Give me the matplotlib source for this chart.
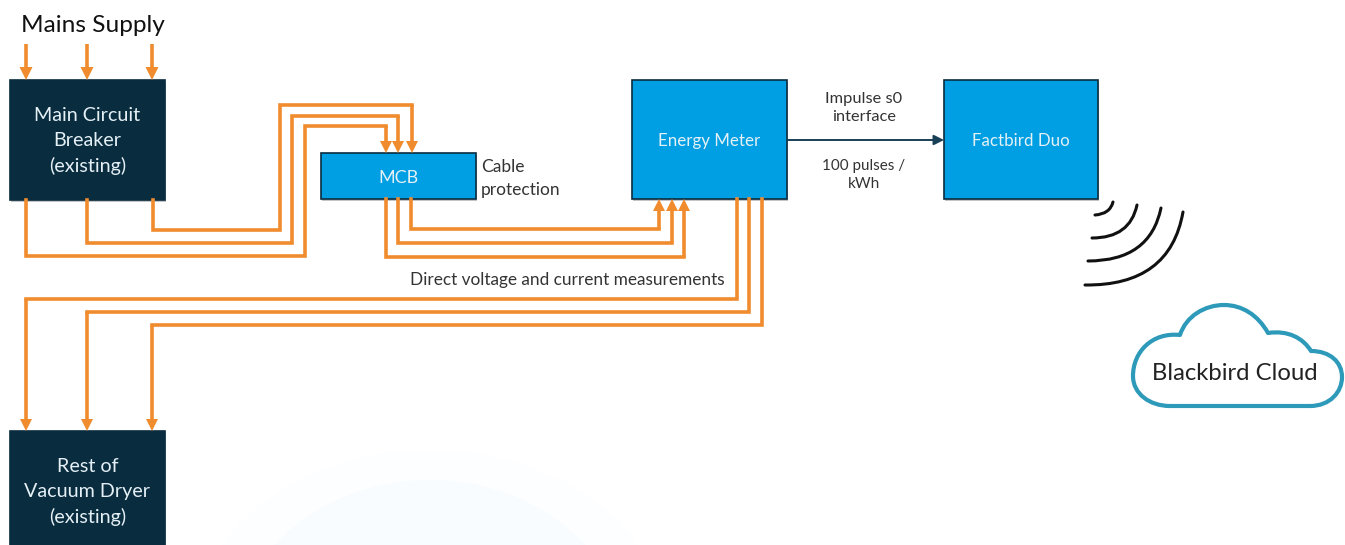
import matplotlib
matplotlib.use("Agg")
import matplotlib.pyplot as plt
from matplotlib.patches import Rectangle, PathPatch, Ellipse
from matplotlib.path import Path

plt.rcParams['font.family'] = ['Lato', 'DejaVu Sans']

ORANGE = '#F08C2E'
NAVY = '#0A2C3F'
BLUE = '#009FE3'
TEAL = '#2E9ABA'

# boxes: x0, y0, x1, y1, fill, label, font size
boxes = [
    (10, 80, 165, 200, NAVY, 'Main Circuit\nBreaker\n(existing)', 14.2),
    (321, 153, 476, 199, BLUE, 'MCB', 13),
    (632, 80, 787, 199, BLUE, 'Energy Meter', 12.2),
    (944, 80, 1098, 199, BLUE, 'Factbird Duo', 12.2),
    (10, 431, 165, 560, NAVY, 'Rest of\nVacuum Dryer\n(existing)', 14.2),
]
box_label_y = [141, 178, 141, 141, 492]

# wire routes in image pixels, the last segment gets the arrow head
mains_x = [26, 87, 152]
mains_top = 44
mains_bottom = 80

wires = [
    [(153, 200), (153, 230), (280, 230), (280, 105), (412, 105), (412, 153)],
    [(87, 200), (87, 243), (292, 243), (292, 116), (398, 116), (398, 153)],
    [(26, 200), (26, 256), (305, 256), (305, 126), (386, 126), (386, 153)],
    [(411, 199), (411, 229), (659, 229), (659, 199)],
    [(398, 199), (398, 243), (672, 243), (672, 199)],
    [(386, 199), (386, 257), (684, 257), (684, 199)],
    [(737, 199), (737, 299), (26, 299), (26, 431)],
    [(749, 199), (749, 312), (87, 312), (87, 431)],
    [(762, 199), (762, 325), (152, 325), (152, 431)],
]

# wifi arcs: start, control, end
wifi_arcs = [
    ((1113, 202), (1110, 214), (1095, 215)),
    ((1137, 205), (1130, 238), (1092, 238)),
    ((1161, 208), (1150, 261), (1088, 261)),
    ((1183, 212), (1170, 286), (1085, 285)),
]

# plain text labels: x, y, text, size, colour, alignment
labels = [
    (21, 26, 'Mains Supply', 17.6, '#111111', 'left'),
    (481, 167, 'Cable', 12.5, '#333333', 'left'),
    (481, 190, 'protection', 12.5, '#333333', 'left'),
    (410, 280, 'Direct voltage and current measurements', 12.4, '#333333', 'left'),
    (864, 108, 'Impulse s0\ninterface', 11.8, '#333333', 'center'),
    (864, 175, '100 pulses /\nkWh', 11, '#333333', 'center'),
    (1235, 374, 'Blackbird Cloud', 17.2, '#222222', 'center'),
]

# cloud outline, cubic segments after the first straight run
cloud_start = (1170, 406)
cloud_line = (1310, 406)
cloud_curves = [
    ((1330, 406), (1342, 392), (1342, 377)),
    ((1342, 362), (1330, 351), (1311, 351)),
    ((1303, 338), (1288, 330), (1268, 333)),
    ((1258, 315), (1242, 305), (1224, 305)),
    ((1205, 305), (1186, 316), (1180, 335)),
    ((1152, 332), (1133, 352), (1133, 376)),
    ((1133, 394), (1150, 406), (1170, 406)),
]

fig = plt.figure(figsize=(13.45, 5.45), dpi=100)
ax = fig.add_axes([0, 0, 1, 1])
ax.set_xlim(0, 1345)
ax.set_ylim(545, 0)
ax.axis('off')

# faint glow at the bottom of the slide
ax.add_patch(Ellipse((430, 640), 480, 380, color='#FCFEFF', lw=0, zorder=0))
ax.add_patch(Ellipse((430, 655), 400, 350, color='#F9FCFE', lw=0, zorder=0))


def arrow(p0, p1, half=6, length=13):
    # shaft stops inside the head, head is a filled triangle
    dy = 1 if p1[1] > p0[1] else -1
    ax.plot([p0[0], p1[0]], [p0[1], p1[1] - dy * length], color=ORANGE, lw=2.6,
            solid_capstyle='butt', zorder=3)
    ax.fill([p1[0] - half, p1[0] + half, p1[0]],
            [p1[1] - dy * length, p1[1] - dy * length, p1[1]],
            color=ORANGE, lw=0, zorder=4)


for x in mains_x:
    arrow((x, mains_top), (x, mains_bottom), half=6.5, length=13)

for w in wires:
    xs = [p[0] for p in w[:-1]]
    ys = [p[1] for p in w[:-1]]
    ax.plot(xs, ys, color=ORANGE, lw=2.6, solid_joinstyle='miter', zorder=3)
    arrow(w[-2], w[-1], half=6, length=12)

for (x0, y0, x1, y1, fill, text, size), ty in zip(boxes, box_label_y):
    ax.add_patch(Rectangle((x0 + 1, y0 + 2), x1 - x0, y1 - y0, color='#C4C4C4', lw=0, zorder=1))
    ax.add_patch(Rectangle((x0, y0), x1 - x0, y1 - y0, facecolor=fill,
                           edgecolor='#0A2C3F', lw=1.2, zorder=2))
    ax.text((x0 + x1) / 2, ty, text, color='#E4F0F5', fontsize=size, ha='center',
            va='center', linespacing=1.58, zorder=5)

# s0 impulse link
ax.annotate('', xy=(944, 140), xytext=(787, 140), zorder=4,
            arrowprops=dict(arrowstyle='-|>,head_length=0.5,head_width=0.25',
                            color='#173F55', lw=1.4, mutation_scale=12,
                            shrinkA=0, shrinkB=0))

for a, c, b in wifi_arcs:
    path = Path([a, c, b], [Path.MOVETO, Path.CURVE3, Path.CURVE3])
    ax.add_patch(PathPatch(path, fill=False, edgecolor='#111111', lw=2.2, capstyle='round', zorder=3))

cloud_verts = [cloud_start, cloud_line]
cloud_codes = [Path.MOVETO, Path.LINETO]
for seg in cloud_curves:
    cloud_verts += list(seg)
    cloud_codes += [Path.CURVE4] * 3
ax.add_patch(PathPatch(Path(cloud_verts, cloud_codes), facecolor='white', edgecolor=TEAL,
                       lw=3, joinstyle='round', zorder=3))

for x, y, text, size, colour, ha in labels:
    ax.text(x, y, text, fontsize=size, color=colour, ha=ha, va='center', linespacing=1.45, zorder=5)

fig.savefig('out.png', dpi=100)
